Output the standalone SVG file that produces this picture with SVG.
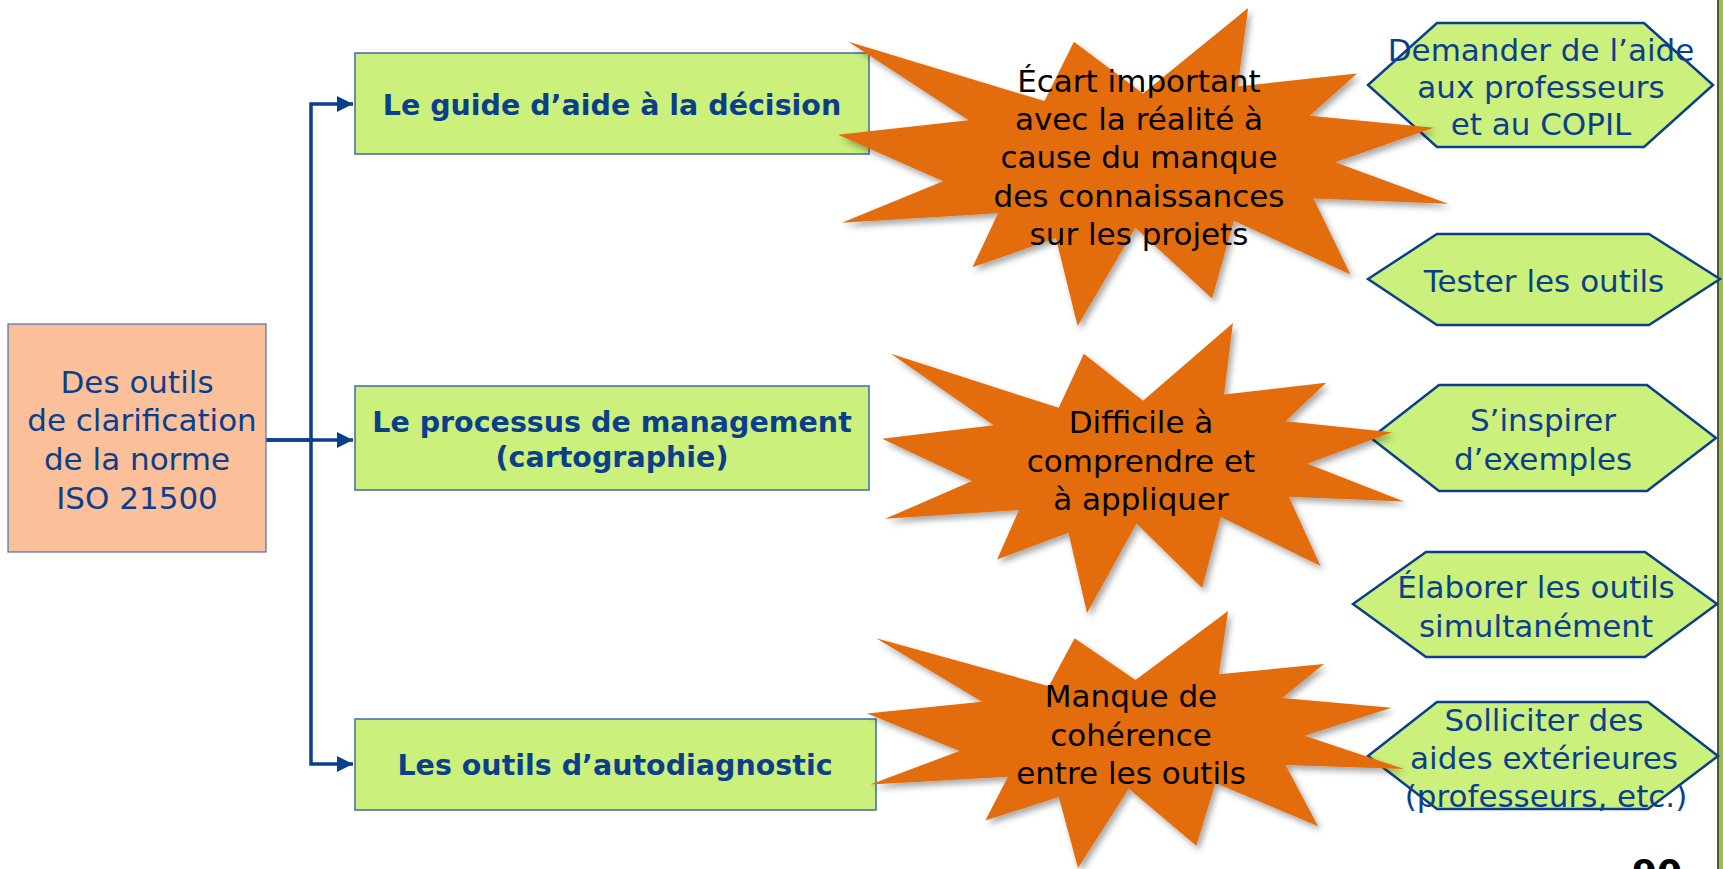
<svg xmlns="http://www.w3.org/2000/svg" xmlns:xlink="http://www.w3.org/1999/xlink" width="1723" height="869" viewBox="0 0 1723 869">
<style>
.t{font-family:"DejaVu Sans","Liberation Sans",sans-serif;font-size:31px;text-anchor:middle}
.blue{fill:#0B3F8C}
.blk{fill:#000}
.bold{font-weight:bold;font-size:28.5px;fill:#0B3F8C}
.box{fill:#CBF07C;stroke:#3F6AA8;stroke-width:1.5}
.hex{fill:#CBF07C;stroke:#0B3F8C;stroke-width:2.5}
.conn{fill:none;stroke:#0B3F8C;stroke-width:3.5}
.star{fill:#E36C0A}
</style>
<defs>
<marker id="ah" markerUnits="userSpaceOnUse" markerWidth="18" markerHeight="16" refX="16" refY="8" orient="auto">
<path d="M0,0 L16,8 L0,16 Z" fill="#0B3F8C"/>
</marker>
<filter id="sh" x="-10%" y="-10%" width="125%" height="125%">
<feDropShadow dx="3" dy="4" stdDeviation="3" flood-color="#000" flood-opacity="0.35"/>
</filter>
<path id="seal" d="M10800,5800 L14522,0 L14155,5325 L18380,4457 L16702,7315 L21097,8137 L17607,10475 L21600,13290 L16837,12942 L18145,18095 L14020,14457 L13247,19737 L10532,14935 L8485,21600 L7715,15627 L4762,17617 L5667,13937 L135,14587 L3722,11775 L0,8615 L4627,7617 L370,2295 L7312,6320 L8352,2295 Z"/>
</defs>
<rect width="1723" height="869" fill="#fff"/>
<g id="page-bar">
<rect x="1717" y="0" width="2.5" height="869" fill="#4D5A2E"/>
<rect x="1719.5" y="0" width="3.5" height="869" fill="#9BBB59"/>
</g>
<g id="connectors">
<path class="conn" d="M266,440 H311 V104 H353" marker-end="url(#ah)"/>
<path class="conn" d="M266,440 H353" marker-end="url(#ah)"/>
<path class="conn" d="M311,440 V764 H353" marker-end="url(#ah)"/>
</g>
<g id="root">
<rect x="8" y="324" width="258" height="228" fill="#FBC09A" stroke="#4A72B0" stroke-width="1.2"/>
<text class="t blue" x="137" y="393">Des outils</text>
<text class="t blue" x="142" y="431">de clarification</text>
<text class="t blue" x="137" y="470">de la norme</text>
<text class="t blue" x="137" y="509">ISO 21500</text>
</g>
<g id="box-guide">
<rect class="box" x="355" y="53" width="514" height="101"/>
<text class="t bold" x="612" y="115">Le guide d’aide à la décision</text>
</g>
<g id="box-processus">
<rect class="box" x="355" y="386" width="514" height="104"/>
<text class="t bold" x="612" y="432">Le processus de management</text>
<text class="t bold" x="612" y="467">(cartographie)</text>
</g>
<g id="box-autodiag">
<rect class="box" x="355" y="719" width="521" height="91"/>
<text class="t bold" x="615" y="775">Les outils d’autodiagnostic</text>
</g>
<g id="hex-demander">
<polygon class="hex" points="1368,85 1437,23 1644,23 1713,85 1644,147 1437,147"/>
<text class="t blue" x="1541" y="61">Demander de l’aide</text>
<text class="t blue" x="1541" y="98">aux professeurs</text>
<text class="t blue" x="1541" y="135">et au COPIL</text>
</g>
<g id="hex-tester">
<polygon class="hex" points="1368,279 1437,234 1649,234 1720,279 1649,325 1437,325"/>
<text class="t blue" x="1544" y="292">Tester les outils</text>
</g>
<g id="hex-inspirer">
<polygon class="hex" points="1371,438 1439,385 1647,385 1716,438 1647,491 1439,491"/>
<text class="t blue" x="1543" y="431">S’inspirer</text>
<text class="t blue" x="1543" y="470">d’exemples</text>
</g>
<g id="hex-elaborer">
<polygon class="hex" points="1353,604 1426,552 1645,552 1717,604 1645,657 1426,657"/>
<text class="t blue" x="1536" y="598">Élaborer les outils</text>
<text class="t blue" x="1536" y="637">simultanément</text>
</g>
<g id="hex-solliciter">
<polygon class="hex" points="1368,756 1437,702 1648,702 1718,756 1648,809 1437,809"/>
<text class="t blue" x="1544" y="731">Solliciter des</text>
<text class="t blue" x="1544" y="769">aides extérieures</text>
<text class="t blue" x="1546" y="807">(professeurs, etc.)</text>
</g>
<g id="star-ecart">
<g filter="url(#sh)"><use xlink:href="#seal" class="star" transform="translate(838,8) scale(0.028241,0.014722)"/></g>
<text class="t blk" x="1139" y="92">Écart important</text>
<text class="t blk" x="1139" y="130">avec la réalité à</text>
<text class="t blk" x="1139" y="168">cause du manque</text>
<text class="t blk" x="1139" y="207">des connaissances</text>
<text class="t blk" x="1139" y="245">sur les projets</text>
</g>
<g id="star-difficile">
<g filter="url(#sh)"><use xlink:href="#seal" class="star" transform="translate(882,323) scale(0.024167,0.013426)"/></g>
<text class="t blk" x="1141" y="433">Difficile à</text>
<text class="t blk" x="1141" y="472">comprendre et</text>
<text class="t blk" x="1141" y="510">à appliquer</text>
</g>
<g id="star-manque">
<g filter="url(#sh)"><use xlink:href="#seal" class="star" transform="translate(867,611) scale(0.024861,0.011898)"/></g>
<text class="t blk" x="1131" y="707">Manque de</text>
<text class="t blk" x="1131" y="746">cohérence</text>
<text class="t blk" x="1131" y="784">entre les outils</text>
</g>
<g id="page-number">
<text x="1632" y="885" font-family="DejaVu Sans, sans-serif" font-weight="bold" font-size="36" fill="#000">90</text>
</g>
</svg>
